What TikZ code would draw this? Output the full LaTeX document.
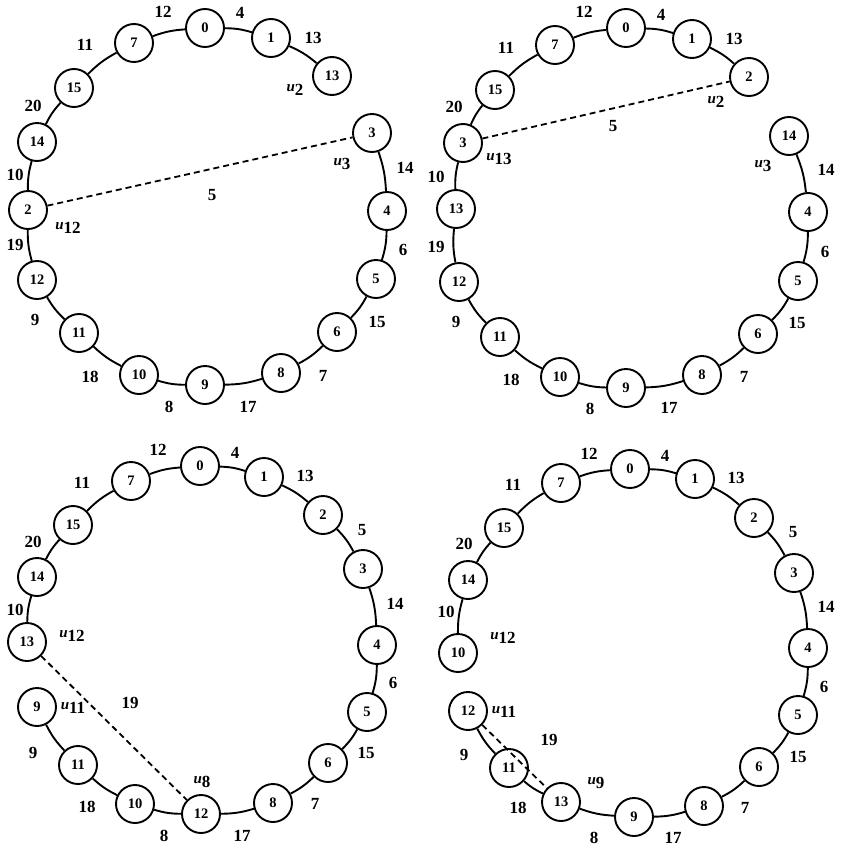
\documentclass[tikz,border=0pt]{standalone}
\usepackage{fontspec}
\setmainfont{Liberation Serif}
\begin{document}
\begin{tikzpicture}[x=1pt,y=-1pt,
  vtx/.style={circle,draw,line width=1.9pt,minimum size=38pt,inner sep=0pt,font=\fontsize{14.5}{14.5}\selectfont\bfseries},
  ring/.style={line width=1.9pt},
  dsh/.style={line width=1.8pt,dash pattern=on 6pt off 4pt},
  lab/.style={inner sep=0pt,font=\fontsize{17}{17}\selectfont\bfseries}]
\newcommand\ulab[1]{{\fontsize{15}{15}\selectfont\bfseries\itshape u}\raisebox{-4pt}{#1}}
\useasboundingbox (0,0) rectangle (842,849);

% ---------------- panel 1 ----------------
\begin{scope}[shift={(0,0)}]
\node[vtx] (a0) at (205,28) {0};
\node[vtx] (a1) at (271,38) {1};
\node[vtx] (a2) at (332,76) {13};
\node[vtx] (a3) at (372,133) {3};
\node[vtx] (a4) at (387,211) {4};
\node[vtx] (a5) at (376,279) {5};
\node[vtx] (a6) at (337,332) {6};
\node[vtx] (a7) at (281,373) {8};
\node[vtx] (a8) at (205,385) {9};
\node[vtx] (a9) at (139,375) {10};
\node[vtx] (a10) at (79,333) {11};
\node[vtx] (a11) at (37,280) {12};
\node[vtx] (a12) at (28,210) {2};
\node[vtx] (a13) at (37,142) {14};
\node[vtx] (a14) at (74,88) {15};
\node[vtx] (a15) at (134,43) {7};
\foreach \i/\j in {0/1,1/2,3/4,4/5,5/6,6/7,7/8,8/9,9/10,10/11,11/12,12/13,13/14,14/15,15/0}
  \draw[ring] (a\i) to[bend left=8] (a\j);
\draw[dsh] (a12) -- (a3);
\node[lab] (al1) at (163,12) {12};
\node[lab] (al2) at (240,13) {4};
\node[lab] (al3) at (313,38) {13};
\node[lab] (al4) at (295,90) {\ulab{2}};
\node[lab] (al5) at (85,45) {11};
\node[lab] (al6) at (33,106) {20};
\node[lab] (al7) at (15,175) {10};
\node[lab] (al8) at (15,245) {19};
\node[lab] (al9) at (35,320) {9};
\node[lab] (al10) at (90,377) {18};
\node[lab] (al11) at (169,407) {8};
\node[lab] (al12) at (248,407) {17};
\node[lab] (al13) at (323,376) {7};
\node[lab] (al14) at (377,322) {15};
\node[lab] (al15) at (403,250) {6};
\node[lab] (al16) at (405,168) {14};
\node[lab] (al17) at (342,164) {\ulab{3}};
\node[lab] (al18) at (212,195) {5};
\node[lab] (al19) at (68,228) {\ulab{12}};
\end{scope}

% ---------------- panel 2 ----------------
\begin{scope}[shift={(421,0)}]
\node[vtx] (b0) at (205,28) {0};
\node[vtx] (b1) at (271,39) {1};
\node[vtx] (b2) at (328,77) {2};
\node[vtx] (b3) at (368,136) {14};
\node[vtx] (b4) at (387,212) {4};
\node[vtx] (b5) at (377,281) {5};
\node[vtx] (b6) at (337,334) {6};
\node[vtx] (b7) at (281,375) {8};
\node[vtx] (b8) at (205,388) {9};
\node[vtx] (b9) at (139,377) {10};
\node[vtx] (b10) at (79,337) {11};
\node[vtx] (b11) at (38,282) {12};
\node[vtx] (b12) at (35,209) {13};
\node[vtx] (b13) at (42,143) {3};
\node[vtx] (b14) at (74,90) {15};
\node[vtx] (b15) at (134,45) {7};
\foreach \i/\j in {0/1,1/2,3/4,4/5,5/6,6/7,7/8,8/9,9/10,10/11,11/12,12/13,13/14,14/15,15/0}
  \draw[ring] (b\i) to[bend left=8] (b\j);
\draw[dsh] (b13) -- (b2);
\node[lab] (bl1) at (163,12) {12};
\node[lab] (bl2) at (240,15) {4};
\node[lab] (bl3) at (313,39) {13};
\node[lab] (bl4) at (295,102) {\ulab{2}};
\node[lab] (bl5) at (85,48) {11};
\node[lab] (bl6) at (33,107) {20};
\node[lab] (bl7) at (78,159) {\ulab{13}};
\node[lab] (bl8) at (15,177) {10};
\node[lab] (bl9) at (15,247) {19};
\node[lab] (bl10) at (35,322) {9};
\node[lab] (bl11) at (90,380) {18};
\node[lab] (bl12) at (169,409) {8};
\node[lab] (bl13) at (248,408) {17};
\node[lab] (bl14) at (323,377) {7};
\node[lab] (bl15) at (376,323) {15};
\node[lab] (bl16) at (404,252) {6};
\node[lab] (bl17) at (405,170) {14};
\node[lab] (bl18) at (342,166) {\ulab{3}};
\node[lab] (bl19) at (192,126) {5};
\end{scope}

% ---------------- panel 3 ----------------
\begin{scope}[shift={(0,425)}]
\node[vtx] (c0) at (200,41) {0};
\node[vtx] (c1) at (264,52) {1};
\node[vtx] (c2) at (323,90) {2};
\node[vtx] (c3) at (363,144) {3};
\node[vtx] (c4) at (377,220) {4};
\node[vtx] (c5) at (367,287) {5};
\node[vtx] (c6) at (328,338) {6};
\node[vtx] (c7) at (273,378) {8};
\node[vtx] (c8) at (201,389) {12};
\node[vtx] (c9) at (135,379) {10};
\node[vtx] (c10) at (78,340) {11};
\node[vtx] (c11) at (37,282) {9};
\node[vtx] (c12) at (27,217) {13};
\node[vtx] (c13) at (37,152) {14};
\node[vtx] (c14) at (73,100) {15};
\node[vtx] (c15) at (131,56) {7};
\foreach \i/\j in {0/1,1/2,2/3,3/4,4/5,5/6,6/7,7/8,8/9,9/10,10/11,12/13,13/14,14/15,15/0}
  \draw[ring] (c\i) to[bend left=8] (c\j);
\draw[dsh] (c12) -- (c8);
\node[lab] (cl1) at (158,25) {12};
\node[lab] (cl2) at (235,28) {4};
\node[lab] (cl3) at (305,51) {13};
\node[lab] (cl4) at (362,105) {5};
\node[lab] (cl5) at (395,179) {14};
\node[lab] (cl6) at (393,258) {6};
\node[lab] (cl7) at (366,328) {15};
\node[lab] (cl8) at (315,379) {7};
\node[lab] (cl9) at (242,411) {17};
\node[lab] (cl10) at (164,411) {8};
\node[lab] (cl11) at (87,382) {18};
\node[lab] (cl12) at (33,328) {9};
\node[lab] (cl13) at (73,283) {\ulab{11}};
\node[lab] (cl14) at (130,278) {19};
\node[lab] (cl15) at (202,357) {\ulab{8}};
\node[lab] (cl16) at (72,211) {\ulab{12}};
\node[lab] (cl17) at (15,185) {10};
\node[lab] (cl18) at (33,117) {20};
\node[lab] (cl19) at (82,58) {11};
\end{scope}

% ---------------- panel 4 ----------------
\begin{scope}[shift={(421,425)}]
\node[vtx] (d0) at (209,44) {0};
\node[vtx] (d1) at (274,54) {1};
\node[vtx] (d2) at (333,93) {2};
\node[vtx] (d3) at (373,148) {3};
\node[vtx] (d4) at (387,223) {4};
\node[vtx] (d5) at (377,290) {5};
\node[vtx] (d6) at (338,342) {6};
\node[vtx] (d7) at (283,381) {8};
\node[vtx] (d8) at (213,392) {9};
\node[vtx] (d9) at (140,377) {13};
\node[vtx] (d10) at (88,343) {11};
\node[vtx] (d11) at (47,286) {12};
\node[vtx] (d12) at (37,228) {10};
\node[vtx] (d13) at (47,155) {14};
\node[vtx] (d14) at (83,103) {15};
\node[vtx] (d15) at (140,58) {7};
\foreach \i/\j in {0/1,1/2,2/3,3/4,4/5,5/6,6/7,7/8,8/9,9/10,10/11,12/13,13/14,14/15,15/0}
  \draw[ring] (d\i) to[bend left=8] (d\j);
\draw[dsh] (d11) -- (d9);
\node[lab] (dl1) at (168,29) {12};
\node[lab] (dl2) at (244,31) {4};
\node[lab] (dl3) at (315,53) {13};
\node[lab] (dl4) at (372,107) {5};
\node[lab] (dl5) at (405,182) {14};
\node[lab] (dl6) at (403,262) {6};
\node[lab] (dl7) at (377,332) {15};
\node[lab] (dl8) at (324,383) {7};
\node[lab] (dl9) at (252,413) {17};
\node[lab] (dl10) at (173,413) {8};
\node[lab] (dl11) at (97,383) {18};
\node[lab] (dl12) at (43,330) {9};
\node[lab] (dl13) at (83,287) {\ulab{11}};
\node[lab] (dl14) at (128,315) {19};
\node[lab] (dl15) at (175,358) {\ulab{9}};
\node[lab] (dl16) at (82,213) {\ulab{12}};
\node[lab] (dl17) at (25,187) {10};
\node[lab] (dl18) at (43,119) {20};
\node[lab] (dl19) at (92,60) {11};
\end{scope}
\end{tikzpicture}
\end{document}
